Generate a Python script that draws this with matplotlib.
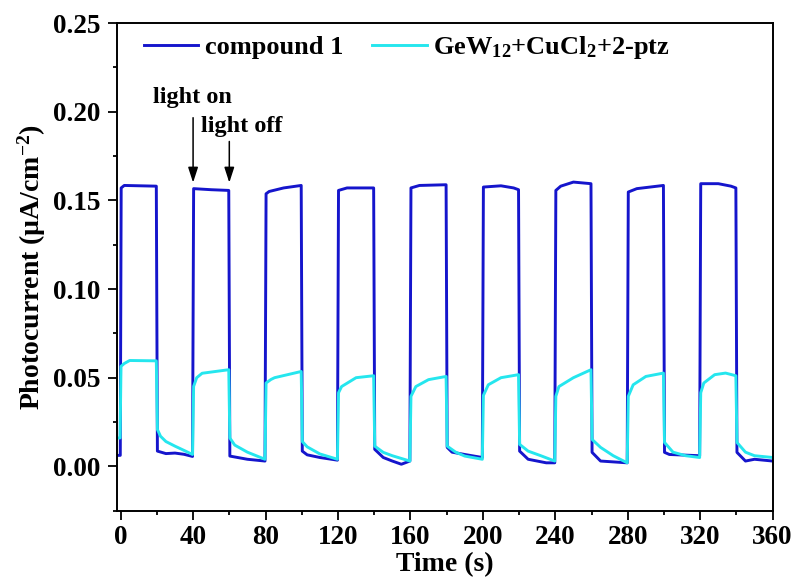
import matplotlib
matplotlib.use("Agg")
import matplotlib.pyplot as plt
from matplotlib.ticker import MultipleLocator

plt.rcParams['font.family'] = ['Liberation Serif', 'DejaVu Serif']
plt.rcParams['mathtext.fontset'] = 'custom'
plt.rcParams['mathtext.rm'] = 'Liberation Serif:bold'
plt.rcParams['mathtext.it'] = 'Liberation Serif:bold'
plt.rcParams['mathtext.bf'] = 'Liberation Serif:bold'

# compound 1 (blue)
t_blue = [-3.3, -0.2, 0.3, 2, 19.7,
          20.3, 25, 30, 35, 39.7,
          40.3, 50, 59.7,
          60.3, 70, 79.7,
          80.3, 82, 90, 99.7,
          100.3, 103, 110, 119.7,
          120.3, 125, 139.7,
          140.3, 145, 150, 155, 159.7,
          160.3, 165, 179.7,
          180.3, 183, 190, 199.7,
          200.3, 210, 217, 219.7,
          220.3, 225, 235, 239.7,
          240.3, 243, 250, 259.7,
          260.3, 265, 279.7,
          280.3, 285, 299.7,
          300.3, 303, 319.7,
          320.3, 330, 337, 339.7,
          340.3, 345, 350, 360]
i_blue = [0.0062, 0.0062, 0.157, 0.1584, 0.158,
          0.0086, 0.0072, 0.0075, 0.0068, 0.0056,
          0.1566, 0.156, 0.1556,
          0.0058, 0.004, 0.003,
          0.1537, 0.155, 0.157, 0.1584,
          0.0086, 0.0065, 0.005, 0.0035,
          0.1556, 0.157, 0.157,
          0.0096, 0.005, 0.003, 0.0012, 0.003,
          0.157, 0.1584, 0.1588,
          0.0107, 0.008, 0.0067, 0.005,
          0.1575, 0.1582, 0.157, 0.156,
          0.0086, 0.004, 0.002, 0.002,
          0.1556, 0.158, 0.1603, 0.1594,
          0.0079, 0.003, 0.002,
          0.1547, 0.1566, 0.1584,
          0.0079, 0.0067, 0.006,
          0.1594, 0.1594, 0.158, 0.157,
          0.0079, 0.003, 0.004, 0.003]

# GeW12+CuCl2+2-ptz (cyan)
t_cyan = [-3.3, -0.3, 0.2, 2, 5, 19.7,
          20.3, 22, 25, 30, 35, 39.7,
          40.3, 42, 45, 59.7,
          60.3, 63, 70, 79.7,
          80.3, 83, 85, 99.7,
          100.3, 103, 110, 119.7,
          120.3, 122, 130, 139.7,
          140.3, 145, 150, 159.7,
          160.3, 163, 170, 179.7,
          180.3, 185, 190, 199.7,
          200.3, 203, 210, 219.7,
          220.3, 225, 232, 239.7,
          240.3, 242, 250, 259.7,
          260.3, 265, 272, 279.7,
          280.3, 283, 290, 299.7,
          300.3, 305, 312, 319.7,
          320.3, 322, 328, 334, 339.7,
          340.3, 345, 350, 360]
i_cyan = [0.016, 0.016, 0.0564, 0.058, 0.0597, 0.0595,
          0.0208, 0.017, 0.014, 0.0114, 0.009, 0.0067,
          0.0451, 0.050, 0.0525, 0.0545,
          0.016, 0.012, 0.008, 0.004,
          0.047, 0.049, 0.050, 0.0535,
          0.014, 0.011, 0.007, 0.004,
          0.0415, 0.045, 0.050, 0.0511,
          0.0114, 0.0079, 0.006, 0.003,
          0.0395, 0.045, 0.0489, 0.0507,
          0.0114, 0.008, 0.0058, 0.004,
          0.040, 0.046, 0.050, 0.0517,
          0.0124, 0.0086, 0.006, 0.003,
          0.0395, 0.045, 0.050, 0.0545,
          0.0152, 0.0107, 0.006, 0.002,
          0.0395, 0.046, 0.0507, 0.0526,
          0.0135, 0.008, 0.006, 0.005,
          0.0415, 0.047, 0.0517, 0.0526, 0.0511,
          0.0135, 0.008, 0.006, 0.005]

x_ticks = [0, 40, 80, 120, 160, 200, 240, 280, 320, 360]
y_ticks = [0.00, 0.05, 0.10, 0.15, 0.20, 0.25]

fig = plt.figure(figsize=(7.99, 5.81), dpi=100)
ax = fig.add_axes([0.146, 0.121, 0.821, 0.8394])

ax.plot(t_blue, i_blue, color='#1515cc', lw=2.1, label='compound 1')
ax.plot(t_cyan, i_cyan, color='#25e6ee', lw=2.1, label='GeW$_{12}$+CuCl$_2$+2-ptz')

ax.set_xlim(-2.2, 360)
ax.set_ylim(-0.025, 0.25)
ax.set_xticks(x_ticks)
ax.set_yticks(y_ticks)
ax.set_yticklabels([f"{v:.2f}" for v in y_ticks])
ax.xaxis.set_minor_locator(MultipleLocator(20))
ax.yaxis.set_minor_locator(MultipleLocator(0.025))
ax.tick_params(which='major', direction='out', length=6.5, width=1.3, labelsize=19.5)
ax.tick_params(which='minor', direction='out', length=3.2, width=1.3)
ax.tick_params(axis='y', which='major', pad=5)
ax.tick_params(axis='x', which='major', pad=3.5)
ax.tick_params(top=False, right=False)
for lab in ax.get_xticklabels() + ax.get_yticklabels():
    lab.set_fontweight('bold')
for s in ax.spines.values():
    s.set_linewidth(1.4)

ax.set_xlabel('Time (s)', fontsize=20, fontweight='bold', labelpad=1.5)
ax.set_ylabel('Photocurrent (µA/cm$^{-2}$)', fontsize=20, fontweight='bold', labelpad=4)

ax.legend(loc='upper left', bbox_to_anchor=(0.006, 1.026), ncol=2, frameon=False,
          prop={'weight': 'bold', 'size': 19}, handlelength=2.05, columnspacing=1.1,
          handletextpad=0.25)

arrow_style = '-|>,head_length=0.4,head_width=0.13'
ax.annotate('', xy=(40, 0.160), xytext=(40, 0.1966),
            arrowprops=dict(arrowstyle=arrow_style, color='black', lw=1.1,
                            mutation_scale=23, shrinkA=0, shrinkB=0))
ax.annotate('', xy=(60, 0.160), xytext=(60, 0.1832),
            arrowprops=dict(arrowstyle=arrow_style, color='black', lw=1.1,
                            mutation_scale=23, shrinkA=0, shrinkB=0))
ax.text(39.5, 0.205, 'light on', ha='center', va='baseline', fontsize=17.5, fontweight='bold')
ax.text(44.5, 0.1887, 'light off', ha='left', va='baseline', fontsize=17.5, fontweight='bold')

fig.savefig('out.png', dpi=100)
